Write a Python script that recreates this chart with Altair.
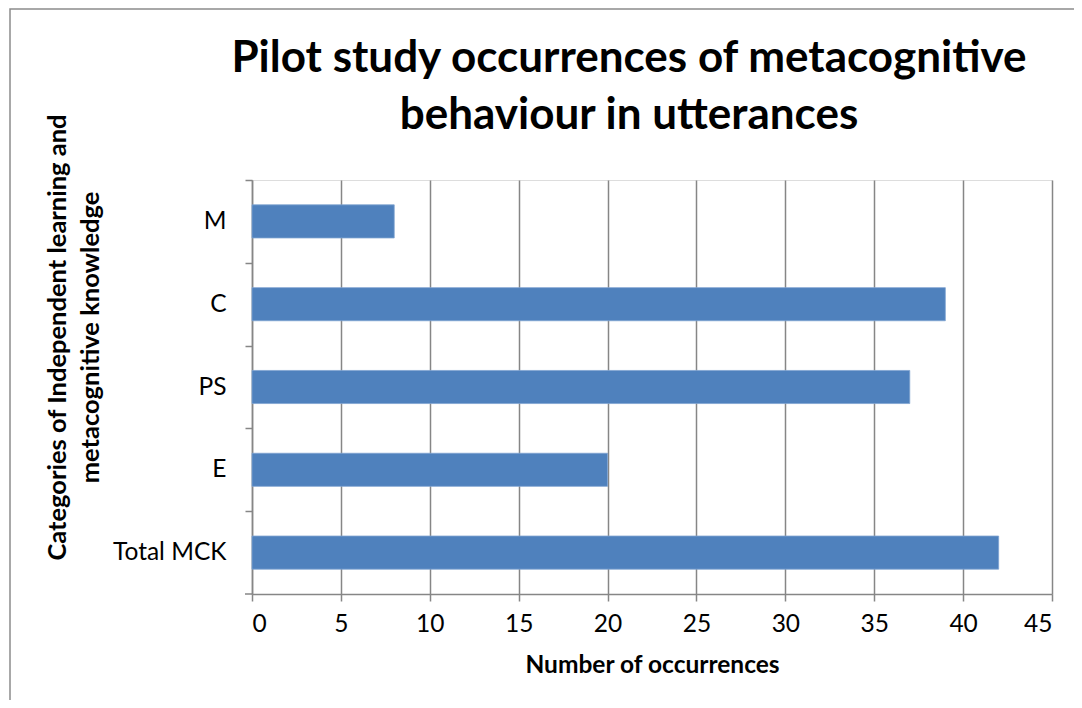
import altair as alt
import pandas as pd

categories = ["M", "C", "PS", "E", "Total MCK"]
values = [8, 39, 37, 20, 42]
x_ticks = [0, 5, 10, 15, 20, 25, 30, 35, 40, 45]

df = pd.DataFrame({"category": categories, "count": values})

FONT = "Lato"
GRAY = "#868686"

bars = alt.Chart(df).mark_bar(color="#4f81bd", stroke="#7fa3d1", strokeWidth=0.8).encode(
    x=alt.X(
        "count:Q",
        scale=alt.Scale(domain=[0, 45], nice=False, zero=True),
        axis=alt.Axis(
            values=x_ticks,
            title="Number of occurrences",
            titleFont=FONT,
            titleFontSize=24.5,
            titleFontWeight="bold",
            titleColor="black",
            titlePadding=18,
            labelFont=FONT,
            labelFontSize=24.5,
            labelColor="black",
            labelPadding=11,
            tickSize=7,
            tickColor=GRAY,
            tickWidth=1.5,
            domainColor=GRAY,
            domainWidth=1.5,
            grid=True,
            gridColor=GRAY,
            gridWidth=1.5,
        ),
    ),
    y=alt.Y(
        "category:N",
        sort=categories,
        scale=alt.Scale(paddingInner=0.6, paddingOuter=0.3),
        axis=alt.Axis(
            title=["Categories of Independent learning and", "metacognitive knowledge"],
            titleFont=FONT,
            titleFontSize=25.5,
            titleFontWeight="bold",
            titleColor="black",
            titleAngle=-90,
            titleAlign="center",
            titleBaseline="middle",
            titleLineHeight=33,
            titleX=-195,
            titleY=157,
            labelFont=FONT,
            labelFontSize=24.5,
            labelColor="black",
            labelPadding=19,
            labelOffset=41.4,
            tickSize=7,
            tickColor=GRAY,
            tickWidth=1.5,
            tickOffset=-41.4,
            domainColor=GRAY,
            domainWidth=1.5,
            grid=False,
        ),
    ),
)

one = alt.Data(values=[{}])

bottom_tick = alt.Chart(one).mark_rule(color=GRAY, strokeWidth=1.5).encode(
    x=alt.value(-7), x2=alt.value(0), y=alt.value(414)
)

frame = alt.Chart(one).mark_rect(fillOpacity=0, stroke="#8c8c8c", strokeWidth=1.5).encode(
    x=alt.value(-242), x2=alt.value(900), y=alt.value(-171), y2=alt.value(700)
)

chart = alt.layer(frame, bars, bottom_tick).properties(
    width=800,
    height=414,
    padding={"left": 244, "top": 172, "right": 22, "bottom": 106},
    autosize=alt.AutoSizeParams(type="none"),
    title=alt.TitleParams(
        text=["Pilot study occurrences of metacognitive", "behaviour in utterances"],
        font=FONT,
        fontSize=44,
        fontWeight="bold",
        color="black",
        lineHeight=57,
        anchor="middle",
        dx=-23,
        offset=-130,
    ),
).configure_view(stroke=None).configure(background="white")

chart.save("out.html", embed_options={"renderer": "svg", "actions": False})
